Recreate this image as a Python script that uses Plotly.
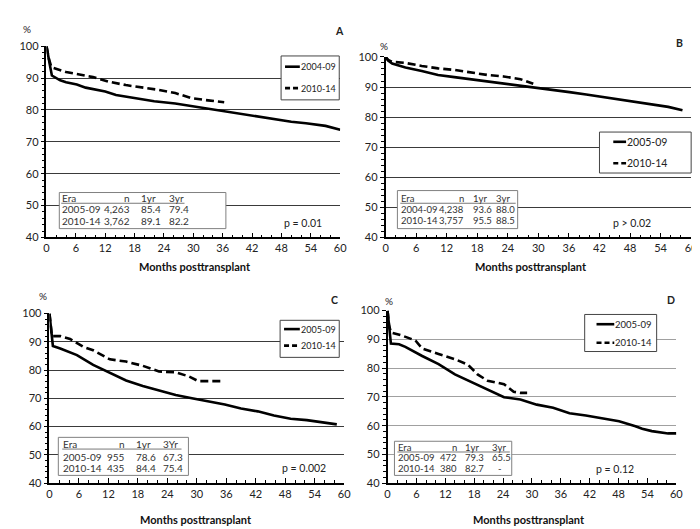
import plotly.graph_objects as go

W, H = 700, 529
FONT = "Lato, 'Open Sans', sans-serif"

# ---------------- data ----------------
A_solid_label = "2004-09"
A_solid_m = [0, 0.3, 0.7, 1.1, 2.8, 4, 6.2, 8, 9.5, 12, 14.2, 16, 19.6, 22, 26.3, 30, 33, 36, 39.7, 43, 46.4, 50, 53, 57, 60]
A_solid_s = [100, 97, 94, 90.8, 89.3, 88.7, 88, 87, 86.5, 85.8, 84.7, 84.2, 83.4, 82.7, 82, 81.1, 80.4, 79.7, 78.6, 78, 77.1, 76.3, 75.8, 75, 73.8]
A_dash_label = "2010-14"
A_dash_m = [0, 0.5, 1, 4, 9.5, 12.9, 16.2, 19.6, 22.9, 26.3, 29.6, 33, 36.3]
A_dash_s = [100, 96, 93.4, 91.9, 90.3, 88.8, 87.8, 87.1, 86.3, 85.3, 83.7, 83, 82.4]

B_solid_label = "2005-09"
B_solid_m = [0, 0.5, 1.3, 3.9, 7.1, 10.3, 13.5, 16.8, 20, 23.2, 26.5, 29.7, 32.9, 36.1, 39.4, 42.6, 45.8, 49, 52.3, 55.5, 58.3]
B_solid_s = [100, 98.8, 97.8, 96.5, 95.3, 94, 93.3, 92.6, 91.8, 91.1, 90.4, 89.7, 89.2, 88.3, 87.5, 86.7, 85.7, 85, 84.2, 83.4, 82.3]
B_dash_label = "2010-14"
B_dash_m = [0, 0.5, 1.3, 3.9, 7.1, 10.3, 13.5, 16.8, 20, 23.2, 26.5, 29]
B_dash_s = [100, 99, 98.4, 98, 97, 96.2, 95.7, 94.8, 94, 93.5, 92.6, 91.1]

C_solid_label = "2005-09"
C_solid_m = [0, 0.3, 0.7, 2.2, 5.6, 8.9, 12.3, 15.6, 19, 22.3, 25.7, 29, 32.4, 35.7, 39, 42.4, 45.7, 49.1, 52.4, 55.8, 58.5]
C_solid_s = [100, 94, 88.5, 87.6, 85.3, 81.8, 79, 76.3, 74.4, 72.9, 71.2, 70, 68.9, 67.8, 66.4, 65.4, 63.9, 62.8, 62.3, 61.5, 60.8]
C_dash_label = "2010-14"
C_dash_m = [0, 0.3, 0.5, 2.2, 4.2, 6.9, 8.9, 12.3, 15.6, 19, 22.3, 25.7, 28.3, 30.3, 34.4, 35]
C_dash_s = [100, 95, 92, 92, 91, 88.2, 87, 83.8, 83, 81.5, 79.5, 79.2, 77.8, 76.1, 76.1, 76.1]

D_solid_label = "2005-09"
D_solid_m = [0, 0.3, 0.7, 2.4, 3.7, 7.2, 10.6, 14, 17.4, 20.8, 24.2, 27.6, 29.7, 31, 34.4, 37.8, 41.2, 44.7, 48.1, 51.5, 52.9, 54.9, 58.3, 60]
D_solid_s = [100, 95, 88.5, 88.3, 87.4, 84.2, 81.4, 77.8, 75.2, 72.4, 69.9, 69.1, 68, 67.3, 66.2, 64.3, 63.5, 62.4, 61.5, 59.8, 58.9, 58.1, 57.3, 57.3]
D_dash_label = "2010-14"
D_dash_m = [0, 0.3, 0.7, 3, 5.8, 7.2, 10.6, 14, 16.7, 18.7, 20.8, 24.2, 26.2, 27.6, 29]
D_dash_s = [100, 95, 92.4, 91.3, 89.6, 86.8, 84.9, 83.1, 81.2, 77.8, 75.6, 74.4, 71.8, 71.4, 71.4]

table_header = ["Era", "n", "1yr", "3yr"]
A_table = [["2005-09", "4,263", "85.4", "79.4"], ["2010-14", "3,762", "89.1", "82.2"]]
B_table = [["2004-09", "4,238", "93.6", "88.0"], ["2010-14", "3,757", "95.5", "88.5"]]
C_header = ["Era", "n", "1yr", "3Yr"]
C_table = [["2005-09", "955", "78.6", "67.3"], ["2010-14", "435", "84.4", "75.4"]]
D_table = [["2005-09", "472", "79.3", "65.5"], ["2010-14", "380", "82.7", "-"]]

p_values = ["p = 0.01", "p > 0.02", "p = 0.002", "p = 0.12"]
panel_letters = ["A", "B", "C", "D"]
x_title = "Months posttransplant"
x_ticks = [0, 6, 12, 18, 24, 30, 36, 42, 48, 54, 60]
y_ticks = [40, 50, 60, 70, 80, 90, 100]

# ---------------- layout geometry (pixels) ----------------
def X(px):
    return px / W

def Y(py):
    return 1 - py / H

panels = [
    dict(l=36, r=334, t=32, b=228, grid="#3a3a3a",
         solid=(A_solid_m, A_solid_s, A_solid_label), dash=(A_dash_m, A_dash_s, A_dash_label),
         header=table_header, rows=A_table, tfs=10,
         tbox=(49, 182, 218, 219), thy=188, ry=(199, 211), cols=(51, 122, 131, 159), uline=(51, 176, 193),
         lbox=(274, 42, 333, 87), l1=(278, 293, 53), l2=(278, 293, 75), lfs=9,
         pv=(296, 213), pct=(16, 14), let=(333, 16), title=(187, 258)),
    dict(l=380, r=690, t=43, b=228, grid="#3a3a3a",
         solid=(B_solid_m, B_solid_s, B_solid_label), dash=(B_dash_m, B_dash_s, B_dash_label),
         header=table_header, rows=B_table, tfs=9.5,
         tbox=(392, 180, 514, 219), thy=188, ry=(199, 211), cols=(395, 461, 468, 491), uline=(395, 512, 193),
         lbox=(597, 120, 690, 162), l1=(611, 624, 130), l2=(611, 624, 152), lfs=10.5,
         pv=(630, 213), pct=(378, 32), let=(678, 29), title=(528, 258)),
    dict(l=39, r=338, t=306, b=480, grid="#3a3a3a",
         solid=(C_solid_m, C_solid_s, C_solid_label), dash=(C_dash_m, C_dash_s, C_dash_label),
         header=C_header, rows=C_table, tfs=10,
         tbox=(48, 433, 180, 472), thy=440, ry=(453, 464), cols=(52, 117, 126, 153), uline=(52, 173, 445),
         lbox=(273, 313, 333, 351), l1=(277, 293, 322), l2=(277, 293, 339), lfs=9,
         pv=(297, 464), pct=(32, 288), let=(328, 292), title=(188, 517)),
    dict(l=382, r=675, t=303, b=480, grid="#a0a0a0",
         solid=(D_solid_m, D_solid_s, D_solid_label), dash=(D_dash_m, D_dash_s, D_dash_label),
         header=table_header, rows=D_table, tfs=9.5,
         tbox=(389, 437, 508, 472), thy=443, ry=(454, 465), cols=(392, 453, 460, 487), uline=(392, 506, 448),
         lbox=(582, 307, 655, 345), l1=(594, 612, 317), l2=(594, 612, 336), lfs=9.5,
         pv=(613, 465), pct=(383, 293), let=(670, 292), title=(525, 517)),
]

fig = go.Figure()
shapes = []
annotations = []

for i, p in enumerate(panels):
    k = "" if i == 0 else str(i + 1)
    xa, ya = "x" + k, "y" + k
    for (m, s, lab), dash in ((p["solid"], "solid"), (p["dash"], "8px,4px")):
        fig.add_trace(go.Scatter(x=m, y=s, mode="lines", name=lab, showlegend=False,
                                 xaxis=xa, yaxis=ya,
                                 line=dict(color="black", width=2.6, dash=dash)))
    fig.layout["xaxis" + k] = dict(
        domain=[X(p["l"]), X(p["r"])], anchor=ya, range=[0, 60], tickvals=x_ticks,
        showgrid=False, zeroline=False, showline=True, linecolor="black", linewidth=1.5,
        ticks="inside", ticklen=5, tickcolor="black", tickwidth=1,
        minor=dict(dtick=2, ticks="inside", ticklen=3, tickcolor="black", tickwidth=1),
        tickfont=dict(family=FONT, size=11, color="#222"), fixedrange=True)
    fig.layout["yaxis" + k] = dict(
        domain=[Y(p["b"]), Y(p["t"])], anchor=xa, range=[40, 100], tickvals=y_ticks,
        showgrid=True, gridcolor=p["grid"], gridwidth=1.3, zeroline=False,
        showline=True, linecolor="black", linewidth=1.5,
        ticks="outside", ticklen=4, tickcolor="black", tickwidth=1,
        minor=dict(dtick=2, ticks="outside", ticklen=3, tickcolor="black", tickwidth=1, showgrid=False),
        tickfont=dict(family=FONT, size=11, color="#222"), fixedrange=True)

    # info table
    x0, y0, x1, y1 = p["tbox"]
    shapes.append(dict(type="rect", xref="paper", yref="paper", x0=X(x0), y0=Y(y1), x1=X(x1), y1=Y(y0),
                       line=dict(color="#808080", width=1), fillcolor="white", layer="above"))
    ux0, ux1, uy = p["uline"]
    shapes.append(dict(type="line", xref="paper", yref="paper", x0=X(ux0), x1=X(ux1), y0=Y(uy), y1=Y(uy),
                       line=dict(color="#555", width=0.8), layer="above"))
    c0, c1, c2, c3 = p["cols"]
    rows_y = [p["thy"]] + list(p["ry"])
    for row, ry in zip([p["header"]] + p["rows"], rows_y):
        for txt, cx, anc in zip(row, (c0, c1, c2, c3), ("left", "right", "left", "left")):
            if txt == "-":
                cx = cx + 6
            annotations.append(dict(xref="paper", yref="paper", x=X(cx), y=Y(ry), text=txt, showarrow=False,
                                    xanchor=anc, yanchor="middle", borderpad=0,
                                    font=dict(family=FONT, size=p["tfs"], color="#333")))

    # legend box
    x0, y0, x1, y1 = p["lbox"]
    shapes.append(dict(type="rect", xref="paper", yref="paper", x0=X(x0), y0=Y(y1), x1=X(x1), y1=Y(y0),
                       line=dict(color="#444", width=1), fillcolor="white", layer="above"))
    for (lx0, lx1, ly), (m, s, lab), dash in ((p["l1"], p["solid"], "solid"), (p["l2"], p["dash"], "5px,3px")):
        shapes.append(dict(type="line", xref="paper", yref="paper", x0=X(lx0), x1=X(lx1), y0=Y(ly), y1=Y(ly),
                           line=dict(color="black", width=2.6, dash=dash), layer="above"))
        annotations.append(dict(xref="paper", yref="paper", x=X(lx1), y=Y(ly), text=lab, showarrow=False,
                                xanchor="left", yanchor="middle", borderpad=0,
                                font=dict(family=FONT, size=p["lfs"], color="#222")))

    # p-value, %, letter, x title
    annotations.append(dict(xref="paper", yref="paper", x=X(p["pv"][0]), y=Y(p["pv"][1]), text=p_values[i],
                            showarrow=False, xanchor="center", yanchor="middle",
                            font=dict(family=FONT, size=10.5, color="#222")))
    annotations.append(dict(xref="paper", yref="paper", x=X(p["pct"][0]), y=Y(p["pct"][1]), text="%",
                            showarrow=False, xanchor="center", yanchor="middle",
                            font=dict(family=FONT, size=10, color="#222")))
    annotations.append(dict(xref="paper", yref="paper", x=X(p["let"][0]), y=Y(p["let"][1]),
                            text="<b>" + panel_letters[i] + "</b>",
                            showarrow=False, xanchor="center", yanchor="middle",
                            font=dict(family=FONT, size=10.5, color="#222")))
    annotations.append(dict(xref="paper", yref="paper", x=X(p["title"][0]), y=Y(p["title"][1]),
                            text="<b>" + x_title + "</b>",
                            showarrow=False, xanchor="center", yanchor="middle",
                            font=dict(family=FONT, size=11, color="#111")))

fig.update_layout(width=W, height=H, margin=dict(l=0, r=0, t=0, b=0),
                  paper_bgcolor="white", plot_bgcolor="white", showlegend=False,
                  shapes=shapes, annotations=annotations)

fig.write_html("out.html")
